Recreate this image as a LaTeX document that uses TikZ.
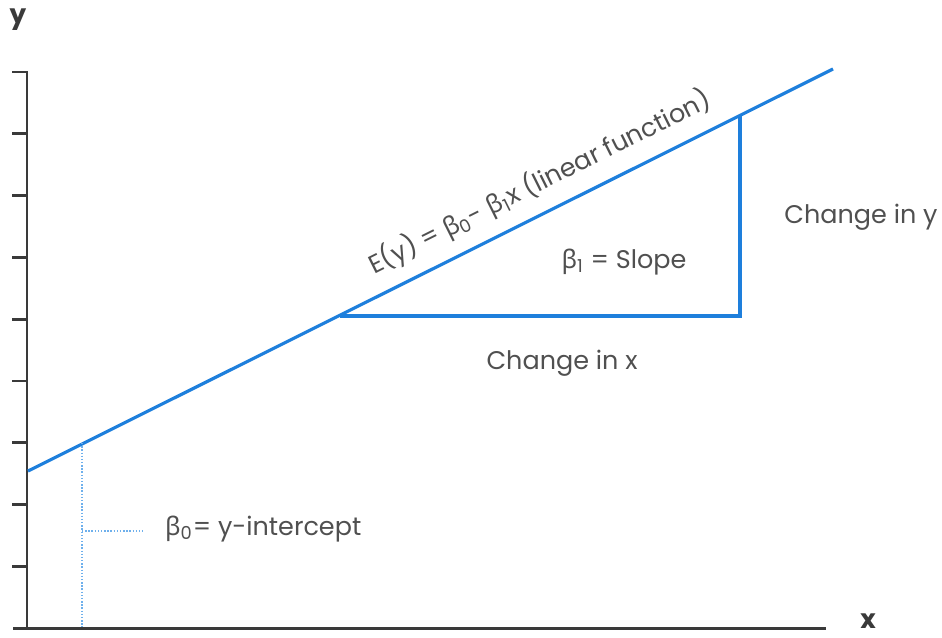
\documentclass[tikz,border=0pt]{standalone}
\usepackage{fontspec}
\setmainfont{Poppins}
\newfontfamily\grkfont{Noto Sans}
\usepackage{xcolor}
\usetikzlibrary{arrows.meta,positioning,calc}
\definecolor{lineblue}{HTML}{1E7FDC}
\definecolor{dotblue}{HTML}{6FB0EC}
\definecolor{axisgray}{HTML}{3A3A3A}
\definecolor{textgray}{HTML}{505050}
\newcommand{\betasub}[1]{{\grkfont β}\textsubscript{#1}}
\tikzset{
  rgaxis/.style={draw=axisgray, line width=1.7pt},
  rgtick/.style={draw=axisgray, line width=1.5pt},
  rgline/.style={draw=lineblue, line width=1.8pt},
  rgguide/.style={draw=dotblue, line width=0.8pt, densely dotted},
  rglabel/.style={font=\fontsize{14.5}{17}\selectfont, text=textgray, inner sep=1pt},
  rgaxislabel/.style={font=\fontsize{15}{17}\selectfont\bfseries, text=axisgray, inner sep=1pt}
}

\begin{document}
\begin{tikzpicture}[x=0.02cm, y=-0.02cm]
  \useasboundingbox (0,0) rectangle (942,637);
  \coordinate (O) at (27,628);
  \coordinate (ytop) at (27,71);
  \coordinate (xend) at (826,628);
  \coordinate (a) at (28,471);
  \coordinate (b) at (833,69);
  \coordinate (p) at (340,316);
  \coordinate (q) at (740,316);
  \coordinate (r) at (740,116);
  \coordinate (d) at (82,443);
  \coordinate (df) at (82,627);
  \coordinate (dm) at (82,531);
  \coordinate (de) at (145,531);
  % axes
  \draw[rgaxis] (13,628) -- (xend);
  \draw[rgaxis] (O) -- (ytop);
  \foreach \k in {0,...,8}
    \draw[rgtick] (12,72+61.8*\k) -- (27,72+61.8*\k);
  \node[rgaxislabel] (ylab) at (18,20) {y};
  \node[rgaxislabel] (xlab) at (868,621) {x};
  % regression line and slope triangle
  \draw[rgline] (a) -- (b);
  \draw[rgline] (p) -- (q) -- (r);
  \node[rglabel, rotate=26.5, anchor=south] (eqlab) at ($(a)!0.65!(b)+(-4,-12)$)
    {E(y) = \betasub{0}- \betasub{1}x (linear function)};
  \node[rglabel] (slope) at (624,262) {\betasub{1} = Slope};
  \node[rglabel] (dx) at (562,363) {Change in x};
  \node[rglabel] (dy) at (861,217) {Change in y};
  % intercept guide
  \draw[rgguide] (d) -- (df);
  \draw[rgguide] (dm) -- (de);
  \node[rglabel, anchor=west] (icpt) at (163,529) {\betasub{0}= y-intercept};
\end{tikzpicture}
\end{document}
